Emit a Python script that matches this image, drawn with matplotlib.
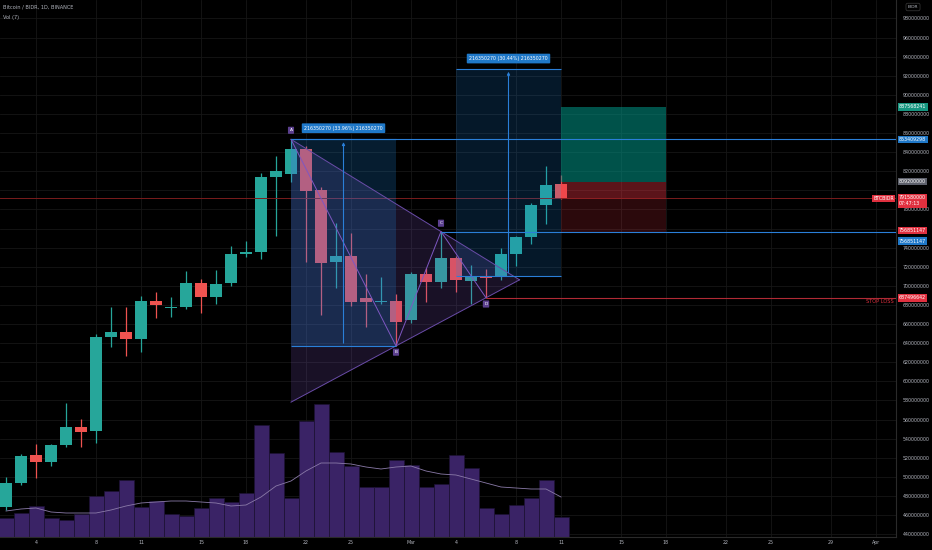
import matplotlib
matplotlib.use('Agg')
import matplotlib.pyplot as plt
import matplotlib.dates as mdates
from matplotlib.patches import Rectangle, Polygon
import pandas as pd

# daily candles, prices in millions of BIDR
dates = pd.date_range('2021-02-02', '2021-03-11', freq='D')
opens = [468, 494, 523, 516, 533, 552, 548, 646, 652, 644, 684, 677, 678, 703, 688,
         703, 733, 735, 814, 817, 843, 800, 725, 731, 687, 683, 684, 664, 712, 704,
         729, 705, 709, 709, 733, 751, 785, 807]
highs = [500, 524, 534, 534, 577, 561, 650, 678, 678, 689, 694, 688, 716, 707, 717,
         742, 747, 818, 836, 853.41, 846, 803, 766, 755, 712, 709, 691, 715, 719, 756.85,
         731, 722, 718, 740, 752, 787, 825, 816]
lows = [465, 491, 499, 511, 531, 531, 535, 636, 627, 631, 666, 667, 676, 672, 681,
        700, 730, 728, 752, 809, 725, 669, 698, 679, 657, 681, 637.06, 661, 683, 698,
        694, 681, 687.5, 706, 721, 744, 765, 791]
closes = [494, 522, 516, 533, 552, 547, 646, 652, 644, 684, 680, 678, 703, 688, 702,
          733, 735, 814, 820, 843, 799, 724, 731, 683, 683, 684, 662, 712, 704, 729,
          706, 709, 708, 733, 751, 785, 806, 791.58]

# volume and its 7 day average (relative units)
volume = [19, 24, 31, 19, 17, 23, 41, 46, 57, 30, 36, 23, 21, 29, 39, 35, 44, 112, 84,
          39, 116, 133, 85, 71, 50, 50, 77, 72, 50, 53, 82, 69, 29, 23, 32, 39, 57, 20]
volume_ma = [26, 28, 29, 25, 24, 24, 24, 27, 31, 34, 35, 36, 36, 35, 34, 31, 32, 40, 51,
             56, 66, 74, 74, 73, 70, 68, 70, 71, 66, 63, 62, 58, 54, 50, 49, 48, 48, 40]

price_ticks = list(range(440, 1000, 20))
hidden_ticks = [760, 800]   # covered by the price scale labels
date_ticks = ['2021-02-04', '2021-02-08', '2021-02-11', '2021-02-15', '2021-02-18',
              '2021-02-22', '2021-02-25', '2021-03-01', '2021-03-04', '2021-03-08',
              '2021-03-11', '2021-03-15', '2021-03-18', '2021-03-22', '2021-03-25',
              '2021-03-29', '2021-04-01']
date_labels = ['4', '8', '11', '15', '18', '22', '25', 'Mar', '4', '8', '11', '15',
               '18', '22', '25', '29', 'Apr']

# drawings on the chart
pattern = {'A': ('2021-02-21', 853.409298), 'B': ('2021-02-28', 637.059028),
           'C': ('2021-03-03', 756.851147), 'D': ('2021-03-06', 687.496642)}
range_right = ('2021-03-04', '2021-03-11', 710.74, 927.090)
position_end = '2021-03-18'
entry, target, stop = 809.2, 887.568241, 756.851147
last_price = 791.58

GREEN = '#26a69a'
RED = '#ef5350'
TXT = '#b2b5be'
GRID = '#161616'
FS = 3.4


def num(d):
    return mdates.date2num(pd.Timestamp(d))


fig = plt.figure(figsize=(9.32, 5.5), dpi=100, facecolor='black')
rect = [0, 13 / 550, 896 / 932, 537 / 550]
vax = fig.add_axes(rect, zorder=0)
ax = fig.add_axes(rect, zorder=1)
ax.patch.set_visible(False)
vax.set_facecolor('black')

x = mdates.date2num(dates.to_pydatetime())
t0 = num('2021-02-04')
xlim = (t0 - 36 / 15, t0 + (896 - 36) / 15)
ax.set_xlim(xlim)
vax.set_xlim(xlim)
ax.set_ylim(437.0, 999.3)
vax.set_ylim(0, 537)

# grid, drawn in the bottom axes so it sits under the volume bars
for p in price_ticks:
    vax.plot(xlim, [p, p], color=GRID, lw=0.6, transform=ax.transData, zorder=0)
for d in date_ticks:
    vax.axvline(num(d), color=GRID, lw=0.6, zorder=0)

# volume
vax.bar(x, volume, width=1.0, color='#3a2366', edgecolor='#1c1233', linewidth=0.5, zorder=2)
vax.plot(x, volume_ma, color='#8a7aa8', lw=0.6, zorder=3)
vax.set_xticks([])
vax.set_yticks([])
for s in vax.spines.values():
    s.set_visible(False)

# candles
cols = [GREEN if c >= o else RED for o, c in zip(opens, closes)]
ax.vlines(x, lows, highs, colors=cols, lw=0.9, zorder=3)
bottoms = [min(o, c) for o, c in zip(opens, closes)]
heights = [max(abs(c - o), 0.9) for o, c in zip(opens, closes)]
ax.bar(x, heights, bottom=bottoms, width=0.76, color=cols, zorder=3)

# last price line
ax.axhline(last_price, color='#7a1c1c', lw=0.7, zorder=4)

# triangle pattern
ax_, ap = num(pattern['A'][0]), pattern['A'][1]
bx, bp = num(pattern['B'][0]), pattern['B'][1]
cx, cp = num(pattern['C'][0]), pattern['C'][1]
dx, dp = num(pattern['D'][0]), pattern['D'][1]
s_ac = (cp - ap) / (cx - ax_)
s_bd = (dp - bp) / (dx - bx)
apex_x = (bp - ap + s_ac * ax_ - s_bd * bx) / (s_ac - s_bd)
apex_p = ap + s_ac * (apex_x - ax_)
low_a = bp + s_bd * (ax_ - bx)
ax.add_patch(Polygon([(ax_, ap), (ax_, low_a), (apex_x, apex_p)], closed=True,
                     facecolor='#7e57c2', alpha=0.2, edgecolor='none', zorder=5))
ax.plot([ax_, apex_x], [ap, apex_p], color='#6a4ca8', lw=0.7, zorder=6)
ax.plot([ax_, apex_x], [low_a, apex_p], color='#6a4ca8', lw=0.7, zorder=6)
ax.plot([ax_, bx, cx, dx], [ap, bp, cp, dp], color='#7e57c2', lw=0.7, zorder=6)

# left date/price range A -> B
ax.add_patch(Rectangle((ax_, bp), bx - ax_, ap - bp, facecolor='#2196f3', alpha=0.2,
                       edgecolor='none', zorder=5))
ax.hlines([ap, bp], ax_, bx, color='#2a7fd8', lw=0.8, zorder=6)
mid = (ax_ + bx) / 2
ax.annotate('', xy=(mid, ap), xytext=(mid, bp),
            arrowprops=dict(arrowstyle='-|>', color='#2a7fd8', lw=0.8, mutation_scale=4), zorder=6)
ax.annotate('216350270 (33.96%) 216350270', xy=(mid, ap), xytext=(0, 8), textcoords='offset points',
            ha='center', va='center', fontsize=FS, color='white', zorder=9,
            bbox=dict(boxstyle='round,pad=0.5,rounding_size=0.2', fc='#1f78c8', ec='none'))

# right date/price range
r0, r1 = num(range_right[0]), num(range_right[1])
rb, rt = range_right[2], range_right[3]
ax.add_patch(Rectangle((r0, rb), r1 - r0, rt - rb, facecolor='#1e88e5', alpha=0.18,
                       edgecolor='none', zorder=5))
ax.hlines([rt, rb], r0, r1, color='#2a7fd8', lw=0.8, zorder=6)
mid = (r0 + r1) / 2
ax.annotate('', xy=(mid, rt), xytext=(mid, rb),
            arrowprops=dict(arrowstyle='-|>', color='#2a7fd8', lw=0.8, mutation_scale=4), zorder=6)
ax.annotate('216350270 (30.44%) 216350270', xy=(mid, rt), xytext=(0, 7.5), textcoords='offset points',
            ha='center', va='center', fontsize=FS, color='white', zorder=9,
            bbox=dict(boxstyle='round,pad=0.5,rounding_size=0.2', fc='#1f78c8', ec='none'))

# horizontal rays
ax.hlines(ap, ax_, xlim[1], color='#2a7fd8', lw=0.8, zorder=6)
ax.hlines(cp, cx, xlim[1], color='#2a7fd8', lw=0.8, zorder=6)
ax.hlines(dp, dx, xlim[1], color='#b02a35', lw=0.8, zorder=6)
ax.text(1 - 2 / 896, dp - 1.5, 'STOP LOSS', transform=ax.get_yaxis_transform(), ha='right',
        va='top', fontsize=3.6, color='#e0303f', zorder=9)

# long position tool
pe = num(position_end)
x11 = num('2021-03-11')
ax.add_patch(Rectangle((x11, entry), pe - x11, target - entry, facecolor='#009688', alpha=0.55,
                       edgecolor='none', zorder=5))
ax.add_patch(Rectangle((x11, last_price), pe - x11, entry - last_price, facecolor='#f23645',
                       alpha=0.38, edgecolor='none', zorder=5))
ax.add_patch(Rectangle((x11, stop), pe - x11, last_price - stop, facecolor='#f23645',
                       alpha=0.18, edgecolor='none', zorder=5))

# pattern point labels
for name, dy in [('A', 6.5), ('B', -4.5), ('C', 6), ('D', -4.5)]:
    d, p = pattern[name]
    ax.annotate(name, xy=(num(d), p), xytext=(0, dy), textcoords='offset points', ha='center',
                va='center', fontsize=3.2, color='white', zorder=9,
                bbox=dict(boxstyle='round,pad=0.35,rounding_size=0.15', fc='#5b3f8e', ec='none'))

# axes styling
ax.yaxis.tick_right()
ax.set_yticks(price_ticks)
ax.set_yticklabels(['' if p in hidden_ticks else f'{p}000000' for p in price_ticks])
ax.set_xticks([num(d) for d in date_ticks])
ax.set_xticklabels(date_labels)
ax.tick_params(axis='y', length=0, pad=5, labelsize=FS, labelcolor=TXT)
ax.tick_params(axis='x', length=0, pad=2, labelsize=FS, labelcolor=TXT)
for k in ['top', 'left']:
    ax.spines[k].set_visible(False)
for k in ['right', 'bottom']:
    ax.spines[k].set_color('#2a2a2a')
    ax.spines[k].set_linewidth(0.8)

# price scale labels
yt = ax.get_yaxis_transform()
xl = 1 + 3 / 896
tags = [(target, '887568241', '#169680'), (ap, '853409298', '#1f78c8'),
        (entry, '809200000', '#5d606b'), (cp + 1.0, '756851147', '#e0303f'),
        (cp - 10.0, '756851147', '#1f78c8'), (dp, '687496642', '#e0303f')]
for p, s, c in tags:
    ax.text(xl, p, s, transform=yt, ha='left', va='center', fontsize=FS, color='white', zorder=10,
            bbox=dict(boxstyle='square,pad=0.28', fc=c, ec='none'))
ax.text(xl, last_price - 2.5, '791580000\n07:47:13', transform=yt, ha='left', va='center',
        fontsize=FS, color='white', zorder=10, linespacing=1.3,
        bbox=dict(boxstyle='square,pad=0.28', fc='#e0303f', ec='none'))
ax.text(1 - 2 / 896, last_price, 'BTCBIDR', transform=yt, ha='right', va='center', fontsize=FS,
        color='white', zorder=10, bbox=dict(boxstyle='square,pad=0.28', fc='#e0303f', ec='none'))

# header texts
fig.text(3 / 932, 1 - 7 / 550, 'Bitcoin / BIDR, 1D, BINANCE', fontsize=3.6, color=TXT, va='center')
fig.text(3 / 932, 1 - 17 / 550, 'Vol (7)', fontsize=3.6, color=TXT, va='center')
fig.text(913 / 932, 1 - 7 / 550, 'BIDR', fontsize=3.2, color=TXT, va='center', ha='center',
         bbox=dict(boxstyle='round,pad=0.4', fc='black', ec='#3a3a3a', lw=0.5))

plt.savefig('out.png', dpi=100, facecolor='black')
